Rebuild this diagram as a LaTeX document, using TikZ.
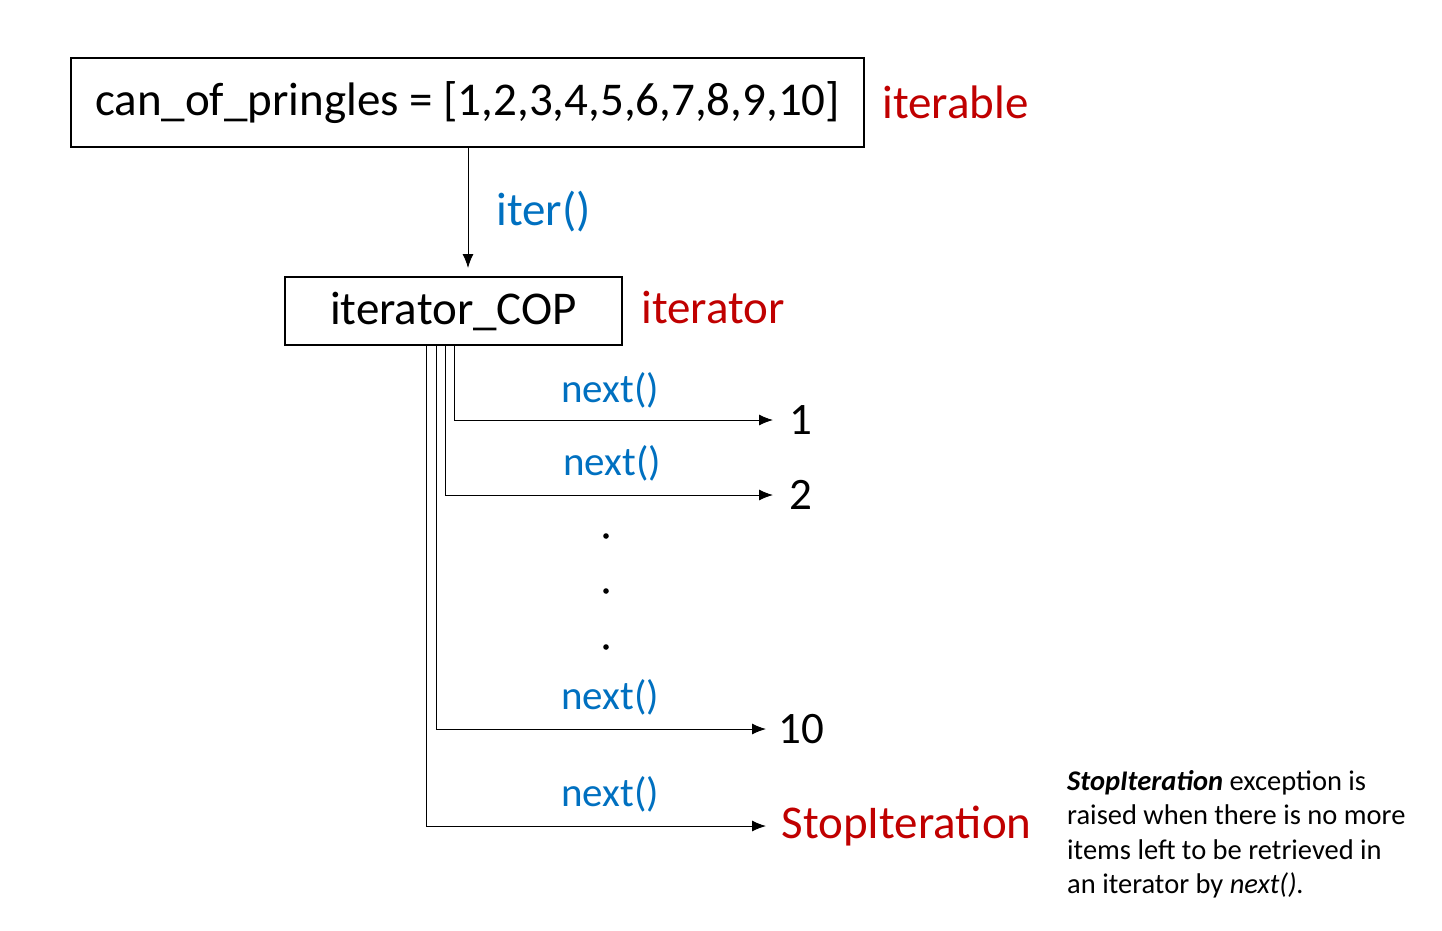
\documentclass[tikz,border=0pt]{standalone}
\usepackage{fontspec}
\setmainfont{Carlito}
\usetikzlibrary{arrows.meta}
\definecolor{cblue}{RGB}{0,112,192}
\definecolor{cred}{RGB}{192,0,0}
\tikzset{
 big/.style={font=\fontsize{47}{54}\selectfont},
 mid/.style={font=\fontsize{45}{52}\selectfont},
 lbl/.style={font=\fontsize{41}{48}\selectfont,text=cblue},
 box/.style={draw,line width=2pt,inner sep=0pt},
 conn/.style={line width=1pt,-{Latex[length=14pt,width=11pt]}},
}
\begin{document}
\begin{tikzpicture}[x=1pt,y=-1pt]
\useasboundingbox (0,0) rectangle (1442,930);
\node[box,minimum width=793pt,minimum height=89pt,big] (top) at (467.5,102.5) {can\_of\_pringles = [1,2,3,4,5,6,7,8,9,10]};
\node[big,text=cred,anchor=west] (itb) at (879,102) {iterable};
\node[box,minimum width=337pt,minimum height=68pt,big] (cop) at (453.5,311) {iterator\_COP};
\node[big,text=cred,anchor=west] (itr) at (638,307) {iterator};
\coordinate (ia) at (468,268);
\draw[conn] (top.south -| ia) -- (ia);
\node[big,text=cblue,anchor=west] (iter) at (493,212) {iter()};
\node[mid,anchor=west] (o1) at (786,420) {1};
\node[mid,anchor=west] (o2) at (786,495) {2};
\node[mid,anchor=west] (o10) at (775,729) {10};
\node[big,text=cred,anchor=west] (si) at (778,826) {StopIteration};
\coordinate (a1) at (454,345); \coordinate (a2) at (445,345);
\coordinate (a3) at (436,345); \coordinate (a4) at (426,345);
\draw[conn] (a1) |- (773,420);
\draw[conn] (a2) |- (773,495);
\draw[conn] (a3) |- (766,729);
\draw[conn] (a4) |- (766,826);
\node[lbl] (n1) at (610,390) {next()};
\node[lbl] (n2) at (612,463) {next()};
\node[lbl] (n3) at (610,697) {next()};
\node[lbl] (n4) at (610,794) {next()};
\foreach \y in {536,591,647} \fill (606,\y) circle (2.8pt);
\node[anchor=north west,align=left,font=\fontsize{28.5}{34.5}\selectfont,inner sep=0pt] (note) at (1067,770)
{\textbf{\textit{StopIteration}} exception is\\raised when there is no more\\items left to be retrieved in\\an iterator by \textit{next().}};
\end{tikzpicture}
\end{document}
